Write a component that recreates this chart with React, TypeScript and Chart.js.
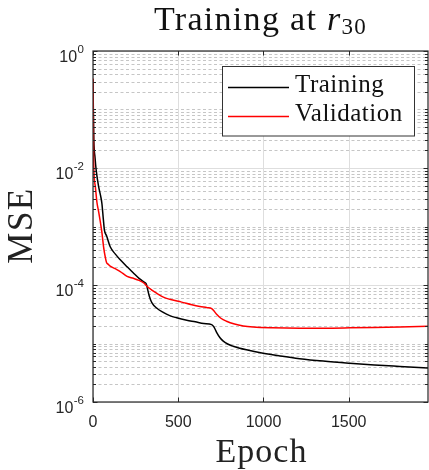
import React, { useEffect, useRef } from "react";
import { Chart, registerables } from "chart.js";

Chart.register(...registerables);

// ---- data ----
const trainEpochs = [0, 2, 5, 12, 19, 33, 45, 52, 61, 67, 80, 101, 130, 160, 200, 237, 270, 300, 312, 320, 330, 345, 375, 412, 450, 491, 550, 600, 650, 696, 710, 725, 745, 764, 790, 822, 900, 998, 1100, 1212, 1350, 1505, 1650, 1800, 1965];
const trainMSE = [0.33, 0.1, 0.03, 0.015, 9e-3, 4.8e-3, 3.3e-3, 2.5e-3, 1.3e-3, 8.7e-4, 6.9e-4, 4.5e-4, 3.4e-4, 2.7e-4, 2.05e-4, 1.6e-4, 1.3e-4, 1.12e-4, 1.05e-4, 8.5e-5, 6.5e-5, 5.0e-5, 4.0e-5, 3.4e-5, 3.0e-5, 2.75e-5, 2.5e-5, 2.35e-5, 2.2e-5, 2.1e-5, 1.9e-5, 1.55e-5, 1.25e-5, 1.1e-5, 9.8e-6, 9.0e-6, 7.8e-6, 6.8e-6, 6.1e-6, 5.5e-6, 5.0e-6, 4.6e-6, 4.3e-6, 4.05e-6, 3.8e-6];

const valEpochs = [0, 2, 4, 13, 23, 33, 43, 52, 62, 72, 80, 90, 101, 130, 160, 200, 237, 270, 300, 315, 345, 375, 413, 450, 520, 580, 627, 670, 696, 710, 725, 750, 783, 830, 881, 939, 1050, 1212, 1350, 1505, 1650, 1800, 1965];
const valMSE = [0.34, 0.06, 0.012, 5e-3, 2.6e-3, 1.8e-3, 1.2e-3, 8e-4, 4.5e-4, 3.0e-4, 2.4e-4, 2.25e-4, 2.1e-4, 1.9e-4, 1.7e-4, 1.4e-4, 1.3e-4, 1.2e-4, 1.07e-4, 9.6e-5, 8.2e-5, 7.2e-5, 6.2e-5, 5.7e-5, 5.1e-5, 4.6e-5, 4.3e-5, 4.1e-5, 3.95e-5, 3.6e-5, 3.15e-5, 2.7e-5, 2.4e-5, 2.15e-5, 2.0e-5, 1.92e-5, 1.86e-5, 1.83e-5, 1.83e-5, 1.85e-5, 1.88e-5, 1.92e-5, 1.97e-5];

const xTicks = [0, 500, 1000, 1500];
const yTickExponents = [0, -2, -4, -6];
const xMin = 0;
const xMax = 1965;
const yMin = 1e-6;
const yMax = 1;

const titleMain = "Training at ";
const titleVar = "r";
const titleSub = "30";
const xLabel = "Epoch";
const yLabel = "MSE";
const seriesNames = ["Training", "Validation"];
const seriesColors = ["#000000", "#ff0000"];

const SERIF = "'Liberation Serif', 'Times New Roman', serif";
const SANS = "'Liberation Sans', Arial, sans-serif";
const AXIS = "#262626";

function hline(ctx: CanvasRenderingContext2D, x1: number, x2: number, y: number) {
  ctx.beginPath();
  ctx.moveTo(x1, y);
  ctx.lineTo(x2, y);
  ctx.stroke();
}
function vline(ctx: CanvasRenderingContext2D, x: number, y1: number, y2: number) {
  ctx.beginPath();
  ctx.moveTo(x, y1);
  ctx.lineTo(x, y2);
  ctx.stroke();
}

const decor = {
  id: "decor",
  beforeDatasetsDraw(chart: any) {
    const { ctx, chartArea: a, scales } = chart;
    const xs = scales.x;
    const ys = scales.y;
    ctx.save();
    ctx.lineWidth = 1;
    // minor horizontal grid (dotted)
    ctx.strokeStyle = "#c6c6c6";
    ctx.setLineDash([3, 2.5]);
    for (let e = -6; e <= -1; e++) {
      for (let k = 1; k <= 9; k++) {
        if (k === 1 && e % 2 === 0) continue;
        const py = Math.round(ys.getPixelForValue(k * Math.pow(10, e))) + 0.5;
        hline(ctx, a.left, a.right, py);
      }
    }
    ctx.setLineDash([]);
    // major grid
    ctx.strokeStyle = "#dedede";
    for (const e of yTickExponents) {
      const py = Math.round(ys.getPixelForValue(Math.pow(10, e))) + 0.5;
      hline(ctx, a.left, a.right, py);
    }
    for (const t of xTicks) {
      const px = Math.round(xs.getPixelForValue(t)) + 0.5;
      vline(ctx, px, a.top, a.bottom);
    }
    ctx.restore();
  },
  afterDatasetsDraw(chart: any) {
    const { ctx, chartArea: a, scales } = chart;
    const xs = scales.x;
    const ys = scales.y;
    ctx.save();
    // frame
    ctx.strokeStyle = AXIS;
    ctx.lineWidth = 1.2;
    ctx.strokeRect(a.left, a.top, a.right - a.left, a.bottom - a.top);
    // y ticks (left + right)
    ctx.lineWidth = 1;
    for (let e = -6; e <= 0; e++) {
      for (let k = 1; k <= 9; k++) {
        const v = k * Math.pow(10, e);
        if (v > yMax * 1.0001) continue;
        const major = k === 1 && e % 2 === 0;
        const len = major ? 4.5 : 3;
        const py = Math.round(ys.getPixelForValue(v)) + 0.5;
        hline(ctx, a.left, a.left + len, py);
        hline(ctx, a.right - len, a.right, py);
      }
    }
    // x ticks (bottom + top)
    for (const t of xTicks) {
      const px = Math.round(xs.getPixelForValue(t)) + 0.5;
      vline(ctx, px, a.bottom, a.bottom - 4.5);
      vline(ctx, px, a.top, a.top + 4.5);
    }
    // y tick labels 10^e
    ctx.fillStyle = AXIS;
    ctx.textBaseline = "alphabetic";
    ctx.textAlign = "left";
    const right = a.left - 9;
    for (const e of yTickExponents) {
      const py = ys.getPixelForValue(Math.pow(10, e));
      const expStr = e < 0 ? "-" + String(-e) : String(e);
      ctx.font = `11.5px ${SANS}`;
      const wE = ctx.measureText(expStr).width;
      ctx.font = `16px ${SANS}`;
      const wB = ctx.measureText("10").width;
      ctx.fillText("10", right - wE - wB - 0.5, py + 10.5);
      ctx.font = `11.5px ${SANS}`;
      ctx.fillText(expStr, right - wE, py + 2);
    }
    // x tick labels
    ctx.font = `16px ${SANS}`;
    ctx.textAlign = "center";
    for (const t of xTicks) {
      const px = xs.getPixelForValue(t);
      ctx.fillText(String(t), px, a.bottom + 24.5);
    }
    // axis labels
    ctx.fillStyle = "#222";
    const cx = (a.left + a.right) / 2;
    const cy = (a.top + a.bottom) / 2;
    (ctx as any).letterSpacing = "1px";
    ctx.font = `34px ${SERIF}`;
    ctx.textAlign = "center";
    ctx.fillText(xLabel, cx + 1, a.bottom + 59.5);
    ctx.save();
    (ctx as any).letterSpacing = "1.5px";
    ctx.translate(32, cy);
    ctx.rotate(-Math.PI / 2);
    ctx.font = `35px ${SERIF}`;
    ctx.fillText(yLabel, 1, 0);
    ctx.restore();
    // title
    (ctx as any).letterSpacing = "1.3px";
    ctx.textAlign = "left";
    ctx.font = `34px ${SERIF}`;
    const w1 = ctx.measureText(titleMain).width;
    ctx.font = `italic 34px ${SERIF}`;
    const w2 = ctx.measureText(titleVar).width;
    ctx.font = `23px ${SERIF}`;
    const w3 = ctx.measureText(titleSub).width;
    const total = w1 + w2 + w3;
    let tx = cx - total / 2;
    const tb = 29.5;
    ctx.fillStyle = "#111";
    ctx.font = `34px ${SERIF}`;
    ctx.fillText(titleMain, tx, tb);
    tx += w1;
    ctx.font = `italic 34px ${SERIF}`;
    ctx.fillText(titleVar, tx, tb);
    tx += w2;
    ctx.font = `23px ${SERIF}`;
    ctx.fillText(titleSub, tx, tb + 4);
    // legend
    (ctx as any).letterSpacing = "0.5px";
    const lx = a.right - 205.5;
    const ly = a.top + 15.5;
    const lw = 192;
    const lh = 69.5;
    ctx.fillStyle = "#fff";
    ctx.fillRect(lx, ly, lw, lh);
    ctx.strokeStyle = "#333";
    ctx.lineWidth = 1;
    ctx.strokeRect(lx, ly, lw, lh);
    ctx.font = `25px ${SERIF}`;
    ctx.textAlign = "left";
    for (let i = 0; i < seriesNames.length; i++) {
      const rowY = ly + 21 + i * 29;
      ctx.strokeStyle = seriesColors[i];
      ctx.lineWidth = 1.5;
      hline(ctx, lx + 5.5, lx + 66.5, rowY);
      ctx.fillStyle = "#111";
      ctx.fillText(seriesNames[i], lx + 72.5, rowY + 4.8);
    }
    ctx.restore();
  },
};

export default function App() {
  const ref = useRef<HTMLCanvasElement>(null);
  useEffect(() => {
    const canvas = ref.current!;
    const chart = new Chart(canvas, {
      type: "line",
      data: {
        datasets: [
          {
            label: seriesNames[0],
            data: trainEpochs.map((e, i) => ({ x: e, y: trainMSE[i] })),
            borderColor: seriesColors[0],
            borderWidth: 1.5,
            pointRadius: 0,
            cubicInterpolationMode: "monotone",
            order: 1,
          },
          {
            label: seriesNames[1],
            data: valEpochs.map((e, i) => ({ x: e, y: valMSE[i] })),
            borderColor: seriesColors[1],
            borderWidth: 1.5,
            pointRadius: 0,
            cubicInterpolationMode: "monotone",
            order: 0,
          },
        ],
      },
      options: {
        animation: false,
        responsive: false,
        devicePixelRatio: 1,
        layout: { padding: { left: 93, top: 51, right: 1, bottom: 68 } },
        plugins: {
          legend: { display: false },
          title: { display: false },
          tooltip: { enabled: false },
        },
        events: [],
        scales: {
          x: { type: "linear", min: xMin, max: xMax, display: false },
          y: { type: "logarithmic", min: yMin, max: yMax, display: false },
        },
      },
      plugins: [decor],
    } as any);
    return () => chart.destroy();
  }, []);
  return (
    <div style={{ position: "fixed", left: 0, top: 0, width: 429, height: 470, background: "#fff" }}>
      <canvas ref={ref} width={429} height={470} style={{ display: "block", width: 429, height: 470 }} />
    </div>
  );
}
